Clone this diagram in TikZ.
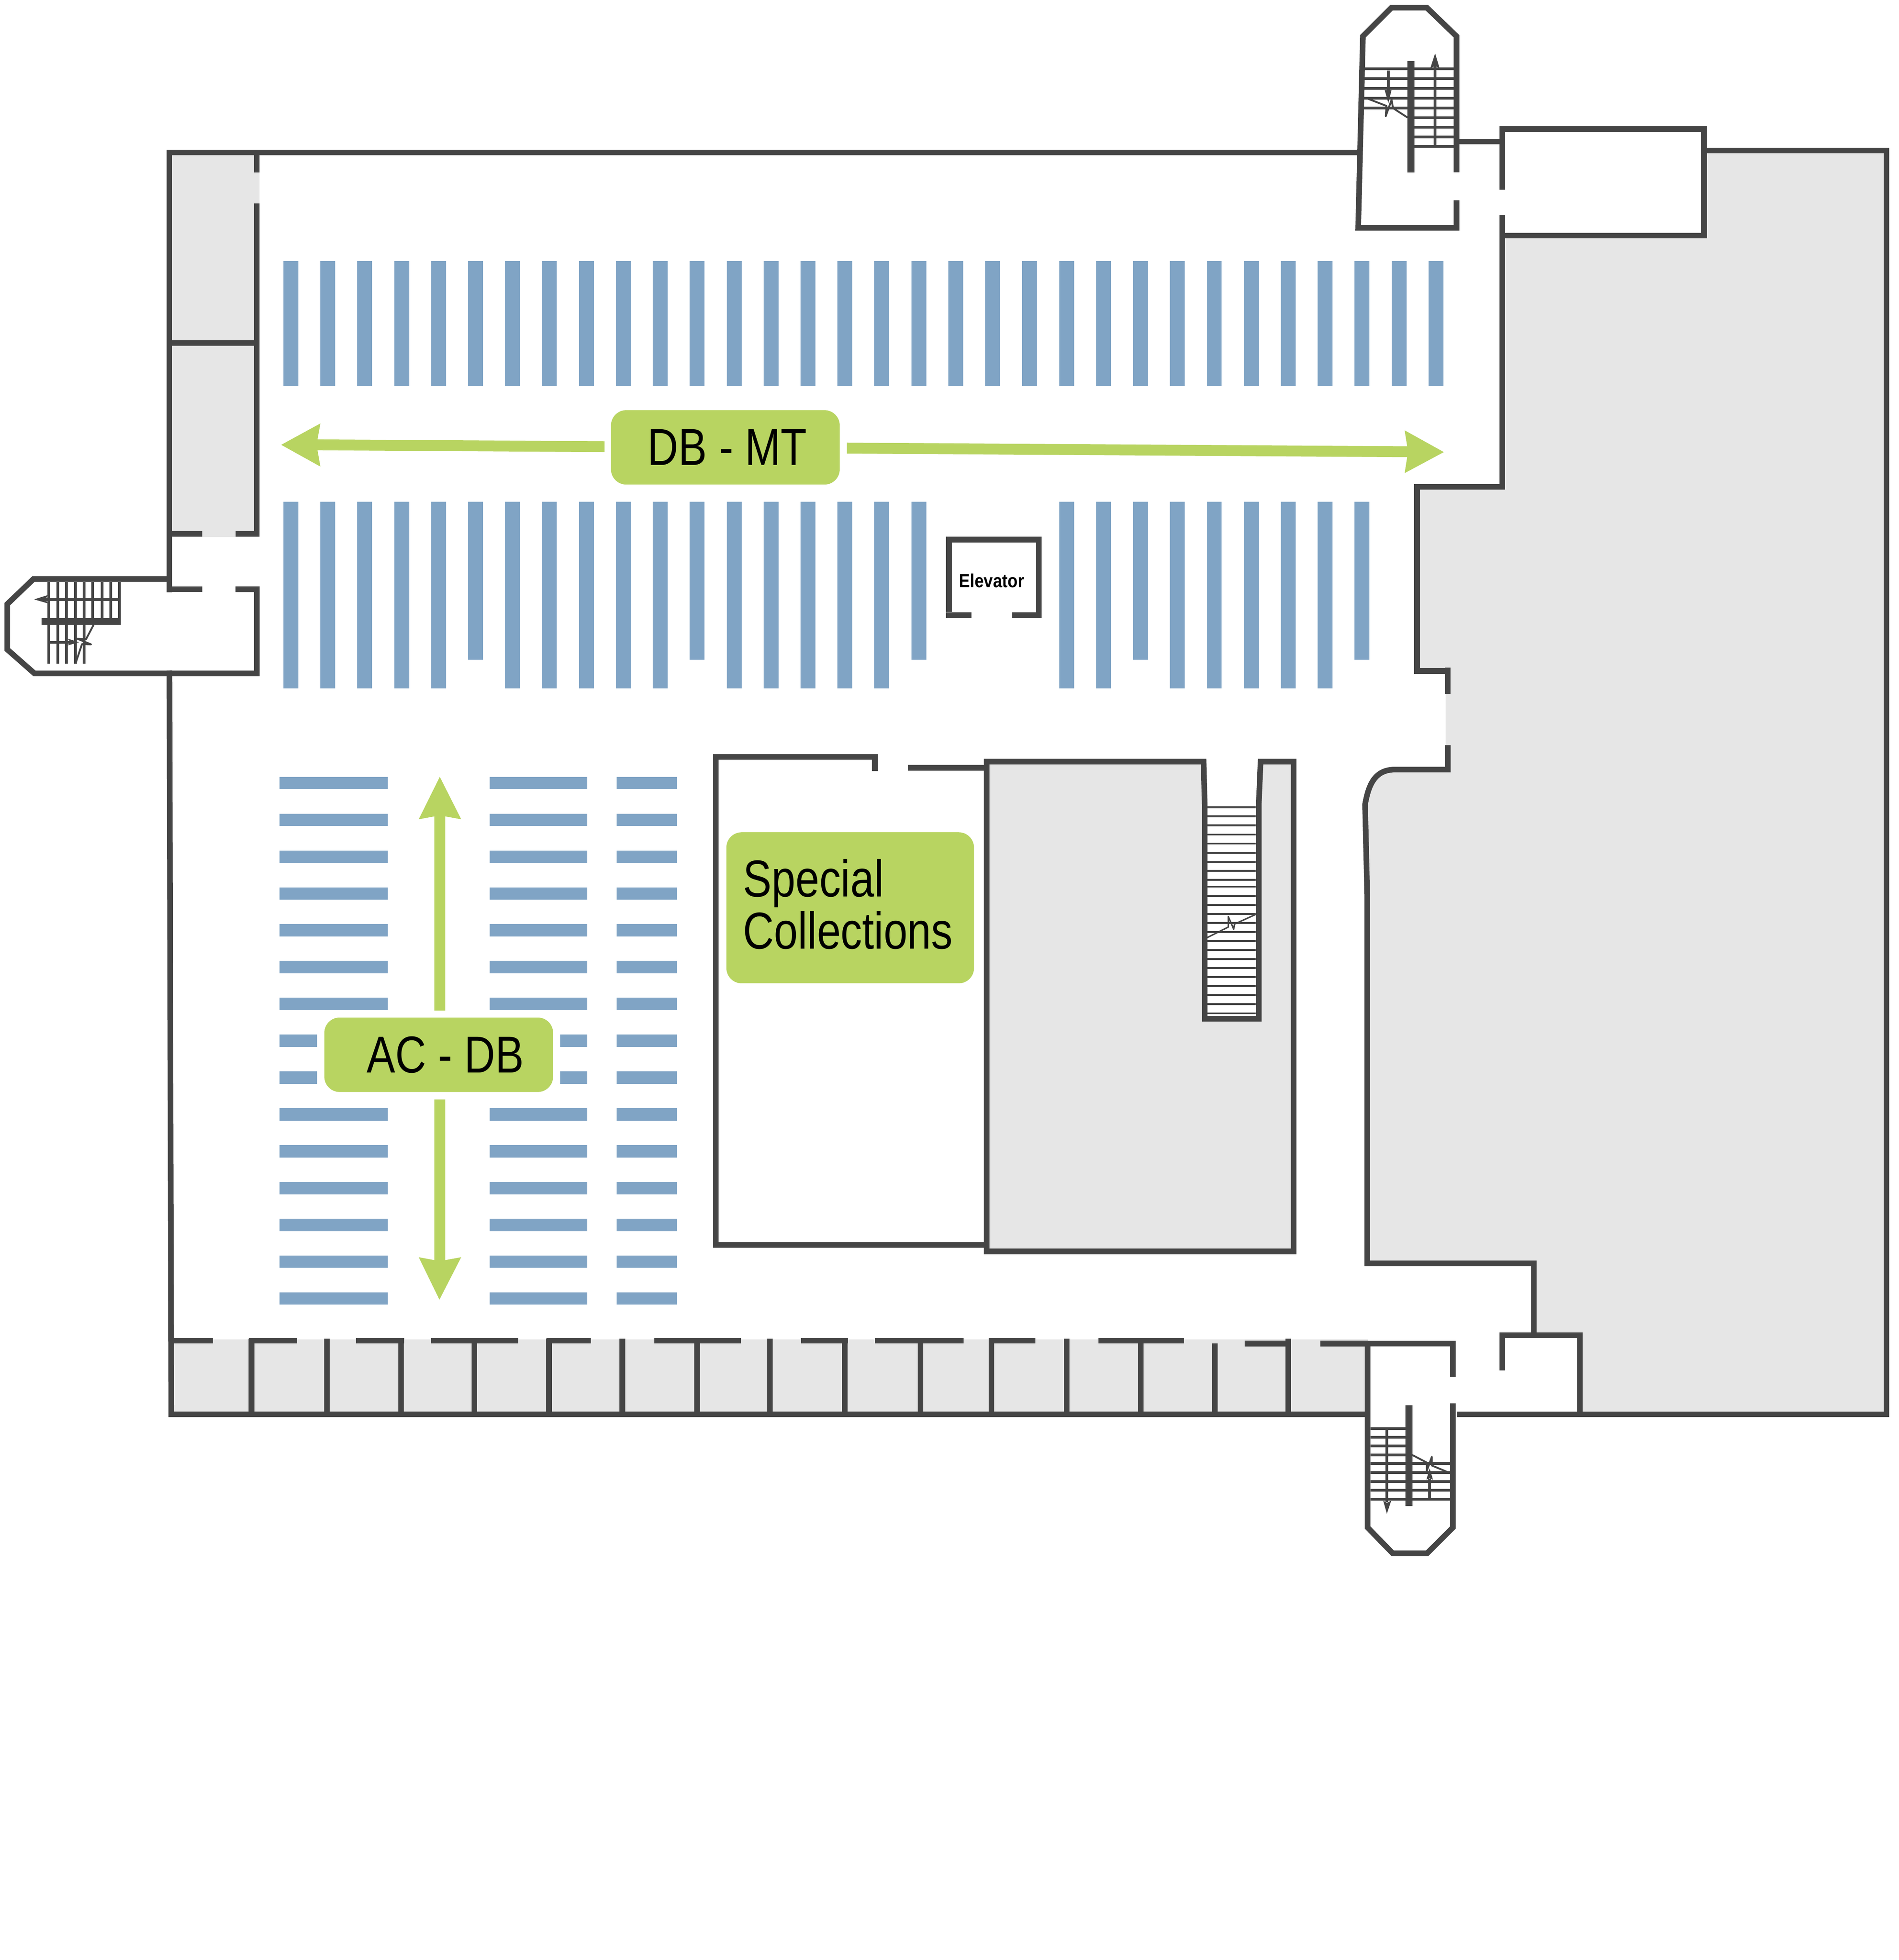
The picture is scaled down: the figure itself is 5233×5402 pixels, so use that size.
\documentclass[tikz,border=0pt]{standalone}
\usepackage{fontspec}
\newfontfamily\pilltext[FakeStretch=0.825]{Liberation Sans}
\newfontfamily\lifttext[FakeStretch=0.87]{Liberation Sans}
\definecolor{wallgray}{HTML}{454545}
\definecolor{roomgray}{HTML}{E6E6E6}
\definecolor{shelfblue}{HTML}{80A4C5}
\definecolor{guidegreen}{HTML}{B8D461}
\tikzset{
	wall/.style={draw=wallgray,line width=0.155cm},
	stairbar/.style={draw=wallgray,line width=0.19cm},
	tread/.style={draw=wallgray,line width=0.075cm},
	slittread/.style={draw=wallgray,line width=0.05cm},
	breakline/.style={draw=wallgray,line width=0.05cm,line join=round},
	shelf/.style={fill=shelfblue},
	guide/.style={fill=guidegreen},
	closed/.style={fill=roomgray},
	pill/.style={fill=guidegreen,rounded corners=0.42cm,inner sep=0pt,font=\pilltext\fontsize{40.7}{41}\selectfont}
}
\begin{document}
\begin{tikzpicture}[x=0.01cm,y=-0.01cm]
	\useasboundingbox (0,0) rectangle (5233,5402);
	\fill[closed] (467,420) rectangle (715,1480);
	\fill[white] (708,561) rectangle (716,1463);
	\fill[white] (715,420) rectangle (716,1480);
	\fill[closed] (472,3692) rectangle (3771,3898);
	\fill[closed] (2719,2099)--(3317,2099)--(3320,2218)--(3320,2808)--(3469,2808)--(3474,2099)--(3565,2099)--(3565,3449)--(2719,3449)--cycle;
	\fill[closed] (4140,649)--(4696,649)--(4696,415)--(5199,415)--(5199,3898)--(4354,3898)--(4354,3680)--(4227,3680)--(4227,3482)--(3768,3482)--(3768,2474)--(3762,2217) .. controls (3772,2160) and (3790,2122) .. (3843,2121)--(3990,2121)--(3984,2054)--(3984,1912)--(3990,1849)--(3905,1849)--(3905,1342)--(4140,1342)--cycle;
	\foreach \k in {0,...,31}
		\fill[shelf] ({781+101.8*\k},720) rectangle +(41,344);
	\foreach \k in {0,1,2,3,4,6,7,8,9,10,12,13,14,15,16,21,22,24,25,26,27,28}
		\fill[shelf] ({781+101.8*\k},1383) rectangle +(41,514);
	\foreach \k in {5,11,17,23,29}
		\fill[shelf] ({781+101.8*\k},1383) rectangle +(41,435);
	\foreach \k in {0,1,2,3,4,5,6,9,10,11,12,13,14}{
		\fill[shelf] (770,{2141+101.5*\k}) rectangle +(299,34);
		\fill[shelf] (1349,{2141+101.5*\k}) rectangle +(269,34);
	}
	\foreach \k in {7,8}{
		\fill[shelf] (770,{2141+101.5*\k}) rectangle +(104,34);
		\fill[shelf] (1544,{2141+101.5*\k}) rectangle +(74,34);
	}
	\foreach \k in {0,...,14}
		\fill[shelf] (1699,{2141+101.5*\k}) rectangle +(167,34);
	\draw[wall] (3743,420)--(467,420)--(467,1632);
	\draw[wall] (467,1848)--(472,3898)--(3769,3898);
	\draw[wall] (708,420)--(708,475);
	\draw[wall] (557,1471)--(467,1471);
	\draw[wall] (708,561)--(708,1471)--(649,1471);
	\draw[wall] (467,945)--(708,945);
	\draw[wall] (467,1596)--(92,1596)--(20,1665)--(20,1790)--(95,1856)--(708,1856)--(708,1624)--(649,1624);
	\draw[wall] (557,1624)--(460,1624);
	\draw[wall] (4014,475)--(4014,100)--(3932,21)--(3835,21)--(3756,100)--(3743,628)--(4014,628)--(4014,552);
	\draw[wall] (4014,390)--(4140,390);
	\draw[wall] (4140,523)--(4140,356)--(4696,356)--(4696,649)--(4140,649);
	\draw[wall] (4140,592)--(4140,1342)--(3905,1342)--(3905,1849)--(3990,1849);
	\draw[wall] (3990,1840)--(3990,1912);
	\draw[wall] (3990,2054)--(3990,2121)--(3843,2121) .. controls (3790,2122) and (3772,2160) .. (3762,2217)--(3768,2474)--(3768,3482)--(4227,3482)--(4227,3680);
	\draw[wall] (4140,3777)--(4140,3680)--(4354,3680)--(4354,3898);
	\draw[wall] (4015,3898)--(5199,3898)--(5199,415)--(4696,415);
	\draw[wall] (4004,3795)--(4004,3703)--(3769,3703)--(3769,4210)--(3838,4281)--(3933,4281)--(4004,4210)--(4004,3868);
	\foreach \a/\b in {478/587,686/819,981/1114,1187/1428,1506/1628,1803/2042,2207/2337,2411/2656,2725/2853,3027/3263}
		\draw[wall] (\a,3695)--(\b,3695);
	\foreach \a/\b in {3430/3558,3639/3769}
		\draw[wall] (\a,3703)--(\b,3703);
	\foreach \x in {693,901,1105,1307,1513,1715,1921,2122,2328,2537,2732,2940,3144,3550}
		\draw[wall] (\x,3690)--(\x,3898);
	\draw[wall] (3348,3703)--(3348,3898);
	\draw[wall] (2411,2125)--(2411,2086)--(1973,2086)--(1973,3431)--(2719,3431);
	\draw[wall] (2502,2116)--(2719,2116);
	\draw[wall] (3320,2218)--(3317,2099)--(2719,2099)--(2719,3449)--(3565,3449)--(3565,2099)--(3474,2099)--(3469,2218)--(3469,2808)--(3320,2808)--cycle;
	\foreach \y in {2225,2250,2275,2300,2325,2351,2376,2400,2425}
		\draw[slittread] (3327,\y)--(3461,\y);
	\foreach \k in {0,...,14}
		\draw[slittread] (3327,{2444+24.9*\k})--(3461,{2444+24.9*\k});
	\draw[breakline,line width=0.04cm] (3327,2584)--(3385,2555)--(3385,2526)--(3400,2561)--(3402,2547)--(3461,2520);
	\draw[wall] (2615,1687)--(2615,1487)--(2863,1487)--(2863,1695)--(2790,1695);
	\draw[wall] (2607,1695)--(2677,1695);
	\node (elevatorlabel) at (2733,1600)[inner sep=0pt,font=\lifttext\bfseries\fontsize{14.8}{15}\selectfont]{Elevator};
	\draw[stairbar] (3888,169)--(3888,475);
	\foreach \y in {190,217,244,271,298}
		\draw[tread] (3758,\y)--(3888,\y);
	\foreach \y in {190,217,244,271,298,325,351,378,404}
		\draw[tread] (3888,\y)--(4007,\y);
	\draw[tread] (3826,195)--(3826,250);
	\draw[tread] (3955,405)--(3955,180);
	\fill[wallgray] (3816,248)--(3826,284)--(3835,248)--cycle;
	\fill[wallgray] (3942,187)--(3955,147)--(3967,187)--(3955,182)--cycle;
	\draw[breakline] (3762,269)--(3821,292)--(3819,320)--(3835,275)--(3839,298)--(3879,324);
	\foreach \x in {135,159,183,208,232}
		\draw[tread] (\x,1604)--(\x,1829);
	\foreach \x in {256,281,305,329}
		\draw[tread] (\x,1604)--(\x,1704);
	\draw[stairbar] (115,1713)--(333,1713);
	\draw[tread] (329,1652)--(125,1652);
	\draw[tread] (135,1770)--(195,1770);
	\fill[wallgray] (132,1640)--(94,1652)--(132,1663)--(125,1652)--cycle;
	\fill[wallgray] (186,1760)--(218,1770)--(186,1779)--(195,1770)--cycle;
	\draw[breakline] (258,1722)--(237,1762)--(212,1760)--(251,1776)--(226,1775)--(208,1829);
	\draw[stairbar] (3883,3873)--(3883,4151);
	\foreach \y in {3937,3961,3985,4010,4034,4058,4083,4107,4132}
		\draw[tread] (3777,\y)--(3883,\y);
	\foreach \y in {4034,4058,4083,4107,4132}
		\draw[tread] (3883,\y)--(3996,\y);
	\draw[tread] (3822,3937)--(3822,4140);
	\draw[tread] (3940,4129)--(3940,4075);
	\fill[wallgray] (3812,4136)--(3822,4172)--(3834,4136)--(3822,4142)--cycle;
	\fill[wallgray] (3931,4078)--(3940,4047)--(3949,4078)--(3940,4074)--cycle;
	\draw[breakline] (3892,4010)--(3932,4031)--(3932,4054)--(3946,4015)--(3946,4039)--(3996,4060);
	\fill[guide] (775,1226)--(883,1167)--(875,1211)--(1666,1216)--(1666,1246)--(875,1241)--(883,1286)--cycle;
	\fill[guide] (2334,1220)--(3878,1230)--(3871,1186)--(3979,1246)--(3871,1304)--(3878,1260)--(2334,1250)--cycle;
	\fill[guide] (1197,2785)--(1197,2250)--(1154,2258)--(1212,2141)--(1271,2258)--(1227,2250)--(1227,2785)--cycle;
	\fill[guide] (1197,3030)--(1197,3473)--(1154,3465)--(1211,3582)--(1271,3465)--(1227,3473)--(1227,3030)--cycle;
	\node (dbmt) at (1999,1233)[pill,minimum width=6.3cm,minimum height=2.05cm]{\hspace*{0.11cm}DB - MT};
	\node (acdb) at (1209,2907)[pill,minimum width=6.3cm,minimum height=2.05cm]{\hspace*{0.36cm}AC - DB};
	\node (special) at (2343,2502)[pill,minimum width=6.82cm,minimum height=4.16cm]{};
	\node (specialtext) at ([xshift=0.03cm,yshift=0.1cm]special.center)[pill,fill=none,text width=5.95cm,align=left]{Special\\Collections};
\end{tikzpicture}
\end{document}
